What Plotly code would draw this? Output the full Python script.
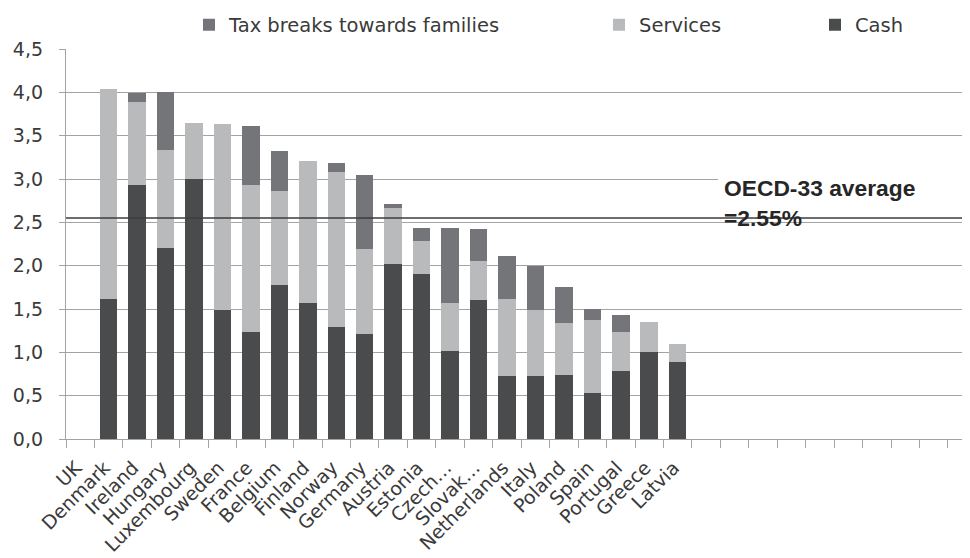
import plotly.graph_objects as go

countries = ["UK", "Denmark", "Ireland", "Hungary", "Luxembourg", "Sweden", "France",
             "Belgium", "Finland", "Norway", "Germany", "Austria", "Estonia", "Czech…",
             "Slovak…", "Netherlands", "Italy", "Poland", "Spain", "Portugal", "Greece", "Latvia"]
cash = [None, 1.62, 2.93, 2.20, 3.00, 1.49, 1.23, 1.78, 1.57, 1.29, 1.21, 2.02, 1.90,
        1.01, 1.60, 0.73, 0.73, 0.74, 0.53, 0.78, 1.00, 0.89]
services = [None, 2.42, 0.96, 1.13, 0.65, 2.14, 1.70, 1.08, 1.64, 1.79, 0.98, 0.65, 0.39,
            0.56, 0.45, 0.88, 0.76, 0.60, 0.84, 0.45, 0.35, 0.21]
tax_breaks = [None, 0.00, 0.10, 0.67, 0.00, 0.00, 0.68, 0.46, 0.00, 0.11, 0.86, 0.04, 0.15,
              0.87, 0.37, 0.50, 0.51, 0.41, 0.13, 0.20, 0.00, 0.00]
oecd_avg = 2.55
n_slots = 33  # category slots on the axis (many empty on the right)

FONT = "DejaVu Sans"
TXT = "#3a3a3a"
GRID = "#a3a3a3"
C_CASH = "#4a4b4d"
C_SERV = "#b9babc"
C_TAX = "#747578"

W, H = 962, 550  # page body adds an 8px offset
x = list(range(len(countries)))

fig = go.Figure()
fig.add_trace(go.Bar(x=x, y=cash, name="Cash", marker_color=C_CASH,
                     marker_line_width=0, legend="legend3"))
fig.add_trace(go.Bar(x=x, y=services, name="Services", marker_color=C_SERV,
                     marker_line_width=0, legend="legend2"))
fig.add_trace(go.Bar(x=x, y=tax_breaks, name="Tax breaks towards families",
                     marker_color=C_TAX, marker_line_width=0, legend="legend"))

# white box behind the average label (hides the gridline under it)
fig.add_shape(type="rect", xref="x", yref="y", x0=22.42, x1=40, y0=2.6, y1=3.03,
              fillcolor="white", line_width=0, layer="between")
# OECD average line
fig.add_shape(type="line", xref="paper", yref="y", x0=0, x1=1, y0=oecd_avg, y1=oecd_avg,
              line=dict(color="#3c3c3c", width=1.5), layer="above")
fig.add_annotation(xref="x", yref="y", x=22.55, y=3.07, xanchor="left", yanchor="top",
                   text="<b>OECD-33 average<br>=%.2f%%</b>" % oecd_avg, showarrow=False, align="left",
                   font=dict(family="Liberation Sans", size=22.8, color="#262626"))

leg_common = dict(orientation="h", xref="container", yref="container", yanchor="middle",
                  y=1 - 17 / H, bgcolor="rgba(0,0,0,0)",
                  font=dict(family=FONT, size=19.5, color=TXT), itemwidth=30)
fig.update_layout(
    legend=dict(x=181 / W, **leg_common),
    legend2=dict(x=591 / W, **leg_common),
    legend3=dict(x=807 / W, **leg_common),
)

fig.update_layout(
    width=W, height=H,
    margin=dict(l=58, r=0, t=41, b=119, autoexpand=False),
    barmode="stack", bargap=0.385,
    plot_bgcolor="white", paper_bgcolor="white",
    separators=", ",
    font=dict(family=FONT, size=19, color=TXT),
    showlegend=True,
)
fig.update_xaxes(
    range=[-0.5, -0.5 + (W - 58) / 28.45],
    tickmode="array", tickvals=x, ticktext=countries, tickangle=-45,
    ticks="", showgrid=False, zeroline=False,
    showline=True, linecolor=GRID, linewidth=1.3,
    tickfont=dict(family=FONT, size=19, color=TXT),
    ticklabelstandoff=9, ticklabelshift=-4,
    minor=dict(ticks="outside", ticklen=8, tickcolor=GRID, tickwidth=1.3,
               tickmode="array", tickvals=[i - 0.5 for i in range(n_slots + 1)], showgrid=False),
)
fig.update_yaxes(
    range=[0, 4.5], dtick=0.5, tick0=0, tickformat=".1f",
    showgrid=True, gridcolor=GRID, gridwidth=1.3, zeroline=False,
    showline=True, linecolor=GRID, linewidth=1.3,
    ticks="outside", ticklen=6, tickcolor=GRID, tickwidth=1.3,
    tickfont=dict(family=FONT, size=19, color=TXT),
    ticklabelstandoff=12,
)

fig.write_html("out.html")
